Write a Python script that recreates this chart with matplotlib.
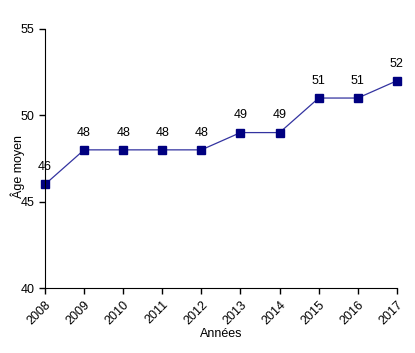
import numpy as np
import matplotlib.pyplot as plt

plt.rcParams['font.family'] = ['Liberation Sans', 'DejaVu Sans']

annees = [2008, 2009, 2010, 2011, 2012, 2013, 2014, 2015, 2016, 2017]
age_moyen = [46, 48, 48, 48, 48, 49, 49, 51, 51, 52]

fig = plt.figure(figsize=(4.15, 3.53), dpi=100)
ax = fig.add_axes([0.1084, 0.184, 0.848, 0.734])

ax.plot(annees, age_moyen, color="#3333a0", linewidth=0.9,
        marker="s", markersize=6, markerfacecolor="#000080", markeredgecolor="#000080")

for x, y in zip(annees, age_moyen):
    ax.annotate(str(y), (x, y), xytext=(0, 8), textcoords="offset points",
                ha="center", va="bottom", fontsize=9)

ax.set_xlim(2008, 2017)
ax.set_ylim(40, 55)
ax.set_yticks([40, 45, 50, 55])
ax.set_xticks(annees)
ax.set_xticklabels([str(a) for a in annees], rotation=45, ha="right",
                   rotation_mode="anchor", fontsize=9)
ax.tick_params(axis="y", labelsize=9)
ax.tick_params(direction="out", length=4, width=1)

for s in ["top", "right"]:
    ax.spines[s].set_visible(False)

ax.set_xlabel("Années", fontsize=9, labelpad=1)
ax.set_ylabel("Âge moyen", fontsize=9, labelpad=-3, y=0.47)
ax.patch.set_alpha(0)
for m in ax.lines:
    m.set_clip_on(False)

fig.savefig("out.png", dpi=100)
